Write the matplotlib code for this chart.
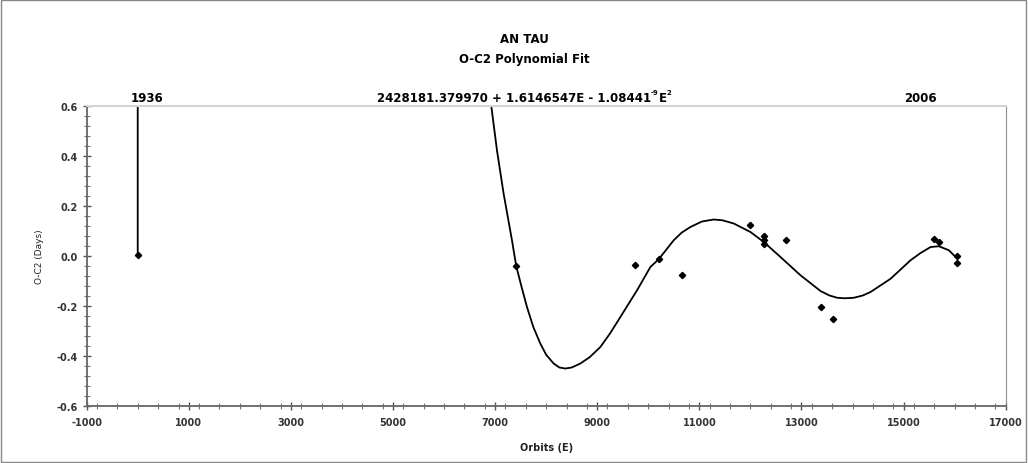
import matplotlib
matplotlib.use('Agg')
from matplotlib import pyplot as plt
from matplotlib.ticker import MultipleLocator

plt.rcParams['font.family'] = ['DejaVu Sans']
plt.rcParams['axes.unicode_minus'] = False

# observed O-C2 points
obs_E = [0, 7414, 9747, 10204, 10662, 12001, 12262, 12262, 12262, 12706,
         13373, 13622, 15594, 15692, 16039, 16039]
obs_oc = [0.003, -0.041, -0.034, -0.013, -0.075, 0.126, 0.080, 0.063, 0.050, 0.066,
          -0.204, -0.250, 0.070, 0.056, -0.001, -0.027]

# polynomial fit curve
curve_E = [0, 0, 6700, 6925, 7036, 7166, 7330, 7414, 7520, 7624, 7750, 7885, 8000,
           8146, 8260, 8375, 8500, 8669, 8850, 9061, 9250, 9453, 9780, 10041, 10204,
           10498, 10650, 10825, 11050, 11282, 11450, 11674, 12001, 12262, 12589, 12981,
           13373, 13550, 13700, 13850, 14026, 14200, 14353, 14745, 15137, 15333, 15529,
           15692, 15888, 16019]
curve_oc = [0.0, 2.5, 2.5, 0.60, 0.423, 0.25, 0.063, -0.041, -0.125, -0.204, -0.285,
            -0.350, -0.395, -0.43, -0.446, -0.45, -0.446, -0.43, -0.405, -0.364, -0.31,
            -0.244, -0.137, -0.044, -0.013, 0.063, 0.093, 0.116, 0.138, 0.146, 0.143,
            0.13, 0.096, 0.056, -0.004, -0.077, -0.140, -0.158, -0.167, -0.169, -0.167,
            -0.158, -0.144, -0.091, -0.017, 0.012, 0.036, 0.039, 0.023, -0.004]

fig = plt.figure(figsize=(10.28, 4.64), dpi=100)
ax = fig.add_axes([0.0843, 0.1228, 0.8940, 0.6466])

ax.plot(curve_E, curve_oc, color='black', lw=1.3, zorder=2, solid_joinstyle='round')
ax.plot(obs_E, obs_oc, 'D', color='black', markersize=3.2, zorder=3)

ax.set_xlim(-1000, 17000)
ax.set_ylim(-0.6, 0.6)
ax.xaxis.set_major_locator(MultipleLocator(2000))
ax.xaxis.set_minor_locator(MultipleLocator(400))
ax.yaxis.set_major_locator(MultipleLocator(0.2))
ax.yaxis.set_minor_locator(MultipleLocator(0.04))
ax.set_xticks(range(-1000, 17001, 2000))
ax.set_yticks([-0.6, -0.4, -0.2, 0.0, 0.2, 0.4, 0.6])
ax.set_yticklabels(['-0.6', '-0.4', '-0.2', '0.0', '0.2', '0.4', '0.6'])
ax.tick_params(axis='both', which='major', direction='inout', length=6, width=1,
               color='#555555', labelsize=7)
ax.tick_params(axis='x', which='major', pad=5)
ax.tick_params(axis='both', which='minor', direction='inout', length=4, width=0.8,
               color='#777777')
for lab in ax.get_xticklabels() + ax.get_yticklabels():
    lab.set_fontweight('bold')
    lab.set_color('#333333')

ax.spines['left'].set_color('#666666')
ax.spines['bottom'].set_color('#666666')
ax.spines['left'].set_linewidth(1.3)
ax.spines['bottom'].set_linewidth(1.3)
ax.spines['top'].set_color('#d4d4d4')
ax.spines['right'].set_color('#909090')
ax.spines['top'].set_linewidth(1.5)

ax.set_xlabel('Orbits (E)', fontsize=7, fontweight='bold', labelpad=11, color='#222222')
ax.set_ylabel('O-C2 (Days)', fontsize=6.5, labelpad=9, color='#222222')

fig.text(0.51, 0.914, 'AN TAU', ha='center', va='center', fontsize=8.5, fontweight='bold')
fig.text(0.51, 0.871, 'O-C2 Polynomial Fit', ha='center', va='center', fontsize=8.5,
         fontweight='bold')
fig.text(0.143, 0.788, '1936', ha='center', va='center', fontsize=8.5, fontweight='bold')
fig.text(0.895, 0.788, '2006', ha='center', va='center', fontsize=8.5, fontweight='bold')

# equation built from pieces so the exponents are small and use a plain hyphen
pieces = [('2428181.379970 + 1.6146547E - 1.08441', 8.5, 0.0),
          ('-9', 5, 0.012),
          ('E', 8.5, 0.0),
          ('2', 5, 0.012)]
renderer = fig.canvas.get_renderer()
texts = []
x = 0.0
for s, size, dy in pieces:
    t = fig.text(x, 0.788 + dy, s, ha='left', va='center', fontsize=size, fontweight='bold')
    w = t.get_window_extent(renderer).width / fig.bbox.width
    texts.append((t, x, w))
    x += w
start = 0.51 - x / 2
for t, x0, w in texts:
    t.set_x(start + x0)

fig.patches.append(plt.Rectangle((0.001, 0.002), 0.997, 0.995, transform=fig.transFigure,
                                 fill=False, edgecolor='#888888', lw=1))

fig.savefig('out.png', dpi=100)
